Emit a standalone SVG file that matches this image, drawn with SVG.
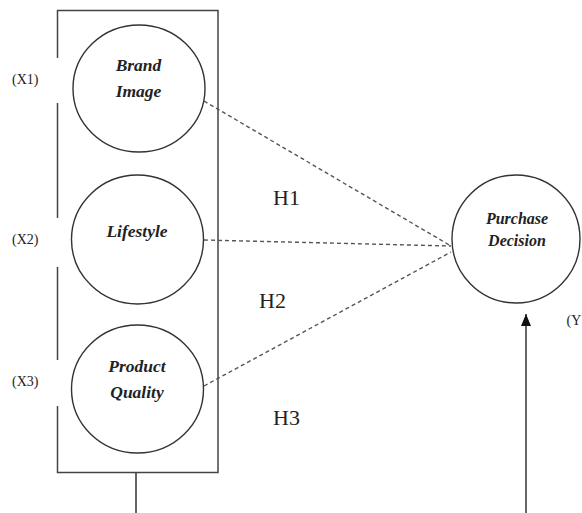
<svg xmlns="http://www.w3.org/2000/svg" width="582" height="513" viewBox="0 0 582 513">
<style>
.node circle, .node ellipse { fill: #fff; stroke: #333; stroke-width: 1.4; }
.nt { font-family: "Liberation Serif", serif; font-weight: bold; font-style: italic; fill: #222; text-anchor: middle; }
.lbl { font-family: "Liberation Serif", serif; fill: #222; }
.frame { fill: none; stroke: #444; stroke-width: 1.5; }
.dash { stroke: #555; stroke-width: 1.4; stroke-dasharray: 4 3; fill: none; }
.solid { stroke: #333; stroke-width: 1.5; fill: none; }
</style>
<defs>
<marker id="arr" markerWidth="12" markerHeight="10" refX="12" refY="5" orient="auto" markerUnits="userSpaceOnUse" viewBox="0 0 12 10">
<path d="M0,0 L12,5 L0,10 Z" fill="#111"/>
</marker>
</defs>
<g id="frame">
<path class="frame" d="M57.5,58 L57.5,10.5 L218,10.5 L218,472.5 L57.5,472.5 L57.5,406 M57.5,360 L57.5,267 M57.5,218 L57.5,103"/>
</g>
<g id="connectors">
<line class="dash" x1="204" y1="101" x2="451" y2="246"/>
<line class="dash" x1="204" y1="240" x2="451" y2="246"/>
<line class="dash" x1="204" y1="386" x2="451" y2="252"/>
<path class="solid" d="M136,473 L136,514 L526,514"/>
<line class="solid" x1="526" y1="514" x2="526" y2="314" marker-end="url(#arr)"/>
</g>
<g id="brand-image" class="node">
<ellipse cx="139" cy="88.5" rx="66" ry="63.5"/>
<text class="nt" x="138.5" y="71" font-size="17.5">Brand</text>
<text class="nt" x="138.5" y="97" font-size="17.5">Image</text>
</g>
<g id="lifestyle" class="node">
<ellipse cx="137.5" cy="239.5" rx="66" ry="64.5"/>
<text class="nt" x="137" y="237" font-size="17.5">Lifestyle</text>
</g>
<g id="product-quality" class="node">
<ellipse cx="137.5" cy="389" rx="66" ry="64"/>
<text class="nt" x="137" y="372" font-size="17.5">Product</text>
<text class="nt" x="137" y="398" font-size="17.5">Quality</text>
</g>
<g id="purchase-decision" class="node">
<ellipse cx="516" cy="239" rx="64" ry="64"/>
<text class="nt" x="517" y="224" font-size="16">Purchase</text>
<text class="nt" x="517" y="246" font-size="16">Decision</text>
</g>
<g id="labels">
<text class="lbl" x="12" y="84" font-size="14">(X1)</text>
<text class="lbl" x="12" y="244" font-size="14">(X2)</text>
<text class="lbl" x="12" y="386" font-size="14">(X3)</text>
<text class="lbl" x="566.5" y="325" font-size="14">(Y</text>
<text class="lbl" x="273" y="205" font-size="22">H1</text>
<text class="lbl" x="259" y="308" font-size="22">H2</text>
<text class="lbl" x="273" y="425" font-size="22">H3</text>
</g>
</svg>
